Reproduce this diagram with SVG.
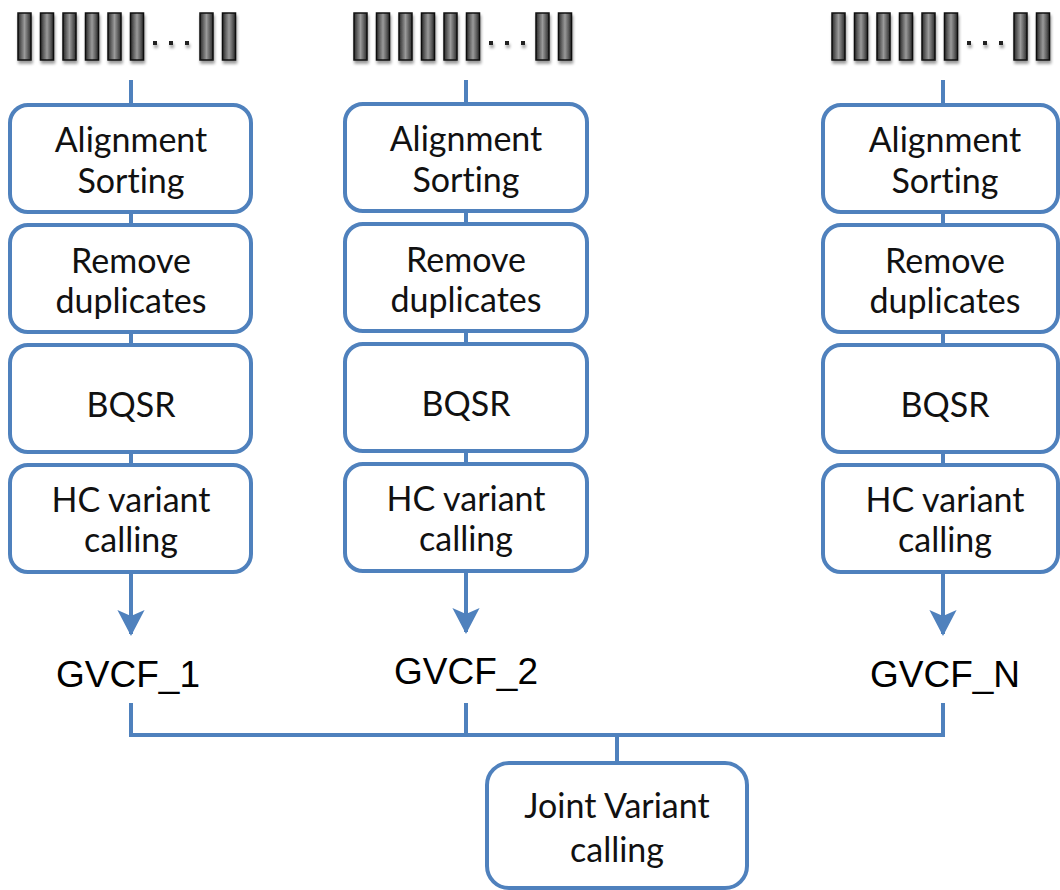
<svg xmlns="http://www.w3.org/2000/svg" width="1060" height="890" viewBox="0 0 1060 890">
<style>
.box{fill:#fff;stroke:#4f81bd;stroke-width:4}
.ln{fill:none;stroke:#4f81bd;stroke-width:4}
.t{font-family:Lato,"Open Sans",sans-serif;font-size:34px;fill:#111;text-anchor:middle;font-variant-ligatures:none}
.g{font-family:"Liberation Sans",Arial,sans-serif;font-size:37px;fill:#000;text-anchor:middle}
.bar{fill:url(#bg);stroke:#111;stroke-width:1.5}
.dot{fill:#222}
</style>
<defs>
<linearGradient id="bg" x1="0" y1="0" x2="1" y2="0">
<stop offset="0" stop-color="#2a2a2a"/>
<stop offset="0.5" stop-color="#9a9a9a"/>
<stop offset="1" stop-color="#2a2a2a"/>
</linearGradient>
<filter id="sh" x="-50%" y="-20%" width="200%" height="150%">
<feGaussianBlur in="SourceAlpha" stdDeviation="1.5"/>
<feOffset dx="1" dy="3"/>
<feComponentTransfer><feFuncA type="linear" slope="0.4"/></feComponentTransfer>
<feMerge><feMergeNode/><feMergeNode in="SourceGraphic"/></feMerge>
</filter>
<marker id="ah" markerWidth="8" markerHeight="8" refX="6" refY="4" orient="auto" markerUnits="strokeWidth">
<path d="M0,0.6 L6.5,4 L0,7.4 L1.5,4 Z" fill="#4f81bd"/>
</marker>
<g id="reads">
<rect class="bar" x="0" y="0" width="13" height="47"/>
<rect class="bar" x="22.5" y="0" width="13" height="47"/>
<rect class="bar" x="45" y="0" width="13" height="47"/>
<rect class="bar" x="67.5" y="0" width="13" height="47"/>
<rect class="bar" x="90" y="0" width="13" height="47"/>
<rect class="bar" x="112.5" y="0" width="13" height="47"/>
<rect class="dot" x="135" y="28" width="4" height="4"/>
<rect class="dot" x="151" y="28" width="4" height="4"/>
<rect class="dot" x="167" y="28" width="4" height="4"/>
<rect class="bar" x="182" y="0" width="13" height="47"/>
<rect class="bar" x="204.5" y="0" width="13" height="47"/>
</g>
</defs>

<g id="reads1" filter="url(#sh)"><use href="#reads" x="18" y="13"/></g>
<g id="reads2" filter="url(#sh)"><use href="#reads" x="354" y="13"/></g>
<g id="reads3" filter="url(#sh)"><use href="#reads" x="832" y="13"/></g>

<g id="connectors">
<line class="ln" x1="131" y1="80" x2="131" y2="105"/>
<line class="ln" x1="131" y1="212" x2="131" y2="225"/>
<line class="ln" x1="131" y1="332" x2="131" y2="345"/>
<line class="ln" x1="131" y1="452" x2="131" y2="465"/>
<line class="ln" x1="131" y1="572" x2="131" y2="634" marker-end="url(#ah)"/>
<line class="ln" x1="466" y1="80" x2="466" y2="104"/>
<line class="ln" x1="466" y1="211" x2="466" y2="224"/>
<line class="ln" x1="466" y1="331" x2="466" y2="344"/>
<line class="ln" x1="466" y1="451" x2="466" y2="464"/>
<line class="ln" x1="466" y1="571" x2="466" y2="632" marker-end="url(#ah)"/>
<line class="ln" x1="943" y1="80" x2="943" y2="105"/>
<line class="ln" x1="943" y1="212" x2="943" y2="225"/>
<line class="ln" x1="943" y1="332" x2="943" y2="345"/>
<line class="ln" x1="943" y1="452" x2="943" y2="465"/>
<line class="ln" x1="943" y1="572" x2="943" y2="634" marker-end="url(#ah)"/>
<path class="ln" d="M131,703 V735 H943 V703 M466,703 V735 M617,735 V763"/>
</g>

<g id="c1_align"><rect class="box" x="10" y="105" width="241" height="107" rx="18"/><text class="t" x="131" y="152">Alignment</text><text class="t" x="131" y="193">Sorting</text></g>
<g id="c1_dup"><rect class="box" x="10" y="225" width="241" height="107" rx="18"/><text class="t" x="131" y="273">Remove</text><text class="t" x="131" y="313">duplicates</text></g>
<g id="c1_bqsr"><rect class="box" x="10" y="345" width="241" height="107" rx="18"/><text class="t" x="131" y="417">BQSR</text></g>
<g id="c1_hc"><rect class="box" x="10" y="465" width="241" height="107" rx="18"/><text class="t" x="131" y="512">HC variant</text><text class="t" x="131" y="552">calling</text></g>
<g id="gvcf1"><text class="g" x="128" y="687">GVCF_1</text></g>

<g id="c2_align"><rect class="box" x="345" y="104" width="242" height="107" rx="18"/><text class="t" x="466" y="151">Alignment</text><text class="t" x="466" y="192">Sorting</text></g>
<g id="c2_dup"><rect class="box" x="345" y="224" width="242" height="107" rx="18"/><text class="t" x="466" y="272">Remove</text><text class="t" x="466" y="312">duplicates</text></g>
<g id="c2_bqsr"><rect class="box" x="345" y="344" width="242" height="107" rx="18"/><text class="t" x="466" y="416">BQSR</text></g>
<g id="c2_hc"><rect class="box" x="345" y="464" width="242" height="107" rx="18"/><text class="t" x="466" y="511">HC variant</text><text class="t" x="466" y="551">calling</text></g>
<g id="gvcf2"><text class="g" x="466" y="684">GVCF_2</text></g>

<g id="c3_align"><rect class="box" x="823" y="105" width="235" height="107" rx="18"/><text class="t" x="945" y="152">Alignment</text><text class="t" x="945" y="193">Sorting</text></g>
<g id="c3_dup"><rect class="box" x="823" y="225" width="235" height="107" rx="18"/><text class="t" x="945" y="273">Remove</text><text class="t" x="945" y="313">duplicates</text></g>
<g id="c3_bqsr"><rect class="box" x="823" y="345" width="235" height="107" rx="18"/><text class="t" x="945" y="417">BQSR</text></g>
<g id="c3_hc"><rect class="box" x="823" y="465" width="235" height="107" rx="18"/><text class="t" x="945" y="512">HC variant</text><text class="t" x="945" y="552">calling</text></g>
<g id="gvcfN"><text class="g" x="945" y="687">GVCF_N</text></g>

<g id="joint"><rect class="box" x="487" y="763" width="260" height="125" rx="22"/><text class="t" x="617" y="818">Joint Variant</text><text class="t" x="617" y="862">calling</text></g>
</svg>
